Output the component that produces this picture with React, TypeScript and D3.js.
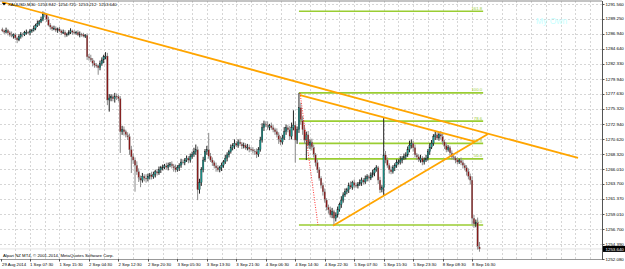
import React from 'react';
import * as d3 from 'd3';

// ---- data ----
const firstOpen = 1287.6;
const closes = [
  1287.4,1287.2,1287.5,1287.1,1286.8,1286.6,1286.8,1286.3,1286.0,1286.5,1286.9,1286.8,1287.1,1287.2,1287.1,1287.4,1287.5,1287.8,1288.2,1288.5,
  1288.8,1289.2,1290.0,1289.9,1289.1,1288.3,1288.0,1287.7,1287.8,1287.5,1287.7,1287.4,1287.1,1287.2,1286.8,1286.9,1287.2,1287.4,1287.2,1287.1,
  1287.2,1286.8,1286.9,1286.8,1286.6,1286.7,1283.4,1283.2,1282.9,1282.4,1282.1,1282.0,1281.7,1282.3,1282.9,1283.4,1283.5,1276.7,1277.0,1277.2,
  1276.9,1277.3,1277.2,1276.9,1271.8,1272.1,1271.8,1271.3,1271.0,1269.0,1267.9,1267.4,1266.6,1265.6,1264.6,1264.3,1264.9,1264.6,1264.5,1264.9,
  1265.1,1264.8,1265.2,1265.6,1265.4,1265.9,1266.2,1266.3,1266.5,1266.3,1266.6,1266.8,1266.5,1266.2,1265.9,1266.2,1266.6,1267.1,1267.0,1267.4,
  1267.7,1267.4,1267.9,1268.3,1268.7,1269.0,1262.8,1263.9,1265.9,1267.4,1268.7,1269.0,1268.0,1267.4,1267.0,1266.5,1266.2,1265.9,1266.2,1266.6,
  1267.1,1267.7,1268.2,1268.7,1269.3,1269.6,1270.0,1269.7,1270.2,1269.9,1269.6,1269.7,1269.3,1269.4,1269.1,1269.0,1268.8,1268.7,1268.3,1269.0,
  1270.5,1272.4,1273.0,1272.8,1272.5,1272.7,1272.4,1272.1,1271.8,1271.3,1270.5,1270.2,1270.8,1271.8,1272.4,1272.1,1271.1,1272.4,1272.8,1270.5,
  1272.1,1275.5,1273.6,1272.1,1270.5,1271.3,1269.7,1270.2,1269.4,1268.2,1267.0,1265.9,1264.6,1263.5,1262.5,1261.2,1260.1,1259.7,1258.9,1259.4,
  1258.4,1258.9,1259.7,1260.5,1261.2,1262.0,1262.5,1262.8,1263.5,1263.2,1263.9,1263.5,1263.4,1263.7,1263.9,1264.3,1264.0,1264.5,1264.8,1264.6,
  1265.1,1265.4,1265.9,1266.2,1264.3,1262.8,1263.1,1268.2,1267.4,1266.6,1265.9,1265.6,1266.2,1266.6,1267.0,1267.1,1267.4,1267.7,1267.9,1268.2,
  1269.0,1269.7,1270.0,1269.3,1268.2,1267.9,1267.4,1267.7,1267.1,1267.4,1267.7,1268.7,1269.4,1270.0,1271.0,1271.3,1270.8,1271.4,1271.1,1270.2,
  1269.6,1269.0,1269.3,1268.5,1267.9,1267.7,1267.4,1267.1,1267.3,1267.0,1266.6,1266.2,1265.6,1264.9,1264.3,1258.4,1257.5,1257.8,1253.94,1253.64,
];
const wickUp = [
  0.3,0.2,0.4,0.2,0.3,0.5,0.2,0.3,0.2,0.4,0.3,0.2,0.3,0.4,0.2,0.3,0.2,0.4,0.3,0.5,
  0.3,0.4,0.4,0.3,0.2,0.5,0.3,0.2,0.4,0.3,0.2,0.3,0.2,0.4,0.3,0.2,0.3,0.4,0.2,0.3,
  0.2,0.3,0.4,0.2,0.3,0.2,0.3,0.4,0.5,0.3,0.4,0.3,0.2,0.5,0.4,0.3,0.6,0.5,0.6,0.4,
  0.3,0.5,0.4,0.3,0.4,0.6,0.5,0.3,0.4,0.5,0.6,0.5,0.4,0.6,0.5,0.4,0.5,0.3,0.6,0.4,
  0.3,0.5,0.4,0.3,0.4,0.5,0.3,0.4,0.3,0.5,0.4,0.3,0.4,0.3,0.5,0.4,0.3,0.5,0.4,0.3,
  0.4,0.3,0.5,0.4,0.6,0.8,0.5,0.6,0.4,0.5,0.4,0.6,2.6,0.5,0.4,0.3,0.5,0.4,0.3,0.4,
  0.3,0.5,0.4,0.3,0.5,0.4,0.6,0.3,0.4,0.5,0.3,0.4,0.3,0.5,0.4,0.3,0.4,0.3,0.5,0.4,
  0.5,0.7,0.5,0.4,0.6,0.3,0.5,0.4,0.3,0.5,0.4,0.6,0.5,0.7,0.5,0.4,0.6,0.8,2.3,0.6,
  0.5,2.3,0.8,0.6,0.7,0.5,0.6,0.4,0.5,0.4,0.3,0.5,0.4,0.3,0.4,0.5,0.3,0.4,0.5,0.6,
  0.3,0.4,0.5,0.3,0.6,0.4,0.5,0.3,0.4,0.6,0.3,0.5,0.4,0.3,0.5,0.4,0.3,0.5,0.4,0.3,
  0.4,0.5,0.3,0.4,0.3,0.5,0.4,5.7,0.6,0.4,0.3,0.5,0.4,0.3,0.5,0.4,0.6,0.3,0.5,0.4,
  0.5,0.7,0.6,0.4,0.5,0.3,0.4,0.5,0.3,0.4,0.5,0.4,0.6,0.5,0.4,0.6,0.4,0.3,0.5,0.4,
  0.3,0.5,0.4,0.3,0.4,0.5,0.3,0.4,0.3,0.5,0.4,0.3,0.4,0.5,0.4,0.6,0.5,0.4,0.7,0.78,
];
const wickDn = [
  0.2,0.3,0.2,0.4,0.3,0.2,0.4,0.3,0.5,0.2,0.3,0.4,0.2,0.3,0.2,0.4,0.3,0.2,0.3,0.2,
  0.3,0.2,0.3,0.4,0.3,0.2,0.4,0.3,0.2,0.3,0.4,0.2,0.3,0.2,0.4,0.3,0.2,0.3,0.4,0.2,
  0.3,0.2,0.4,0.3,0.2,0.3,0.5,0.4,0.3,0.5,0.4,0.3,1.1,0.4,0.3,0.5,0.4,0.8,1.8,0.5,
  0.4,0.6,0.5,0.4,3.3,0.5,0.6,0.4,0.5,0.8,2.5,0.6,4.1,0.5,0.6,1.1,0.4,0.5,0.6,0.4,
  0.5,0.4,0.3,0.5,0.4,0.3,0.5,0.4,0.3,0.4,0.5,0.3,0.4,0.6,0.4,0.3,0.5,0.4,0.3,0.4,
  0.3,0.5,0.4,0.3,0.4,0.5,1.6,0.6,0.5,0.4,0.3,0.5,0.4,0.3,0.5,0.4,0.6,0.3,0.4,0.5,
  0.4,0.3,0.5,0.4,0.3,0.4,0.5,0.3,0.4,0.3,0.5,0.4,0.3,0.4,0.5,0.3,0.4,0.5,0.6,0.4,
  0.3,0.4,0.5,0.3,0.4,0.5,0.3,0.4,0.5,0.4,0.6,0.5,0.4,0.3,0.5,0.4,0.6,0.5,0.4,3.5,
  0.6,0.5,0.7,0.8,0.6,3.1,0.5,0.6,0.5,0.4,0.6,0.5,0.4,0.5,0.6,0.4,0.5,0.6,0.4,0.5,
  1.05,0.5,0.4,0.3,0.5,0.4,0.3,0.4,0.5,0.3,0.4,0.5,0.3,0.4,0.3,0.5,0.4,0.3,0.4,0.5,
  0.3,0.4,0.5,0.3,0.6,0.5,0.4,1.1,0.5,0.4,0.6,0.4,0.3,0.5,0.4,0.3,0.4,0.5,0.3,0.4,
  0.3,0.4,0.5,0.6,0.4,0.5,0.3,0.4,0.5,0.4,0.3,0.4,0.5,0.3,0.4,0.5,0.3,0.4,0.5,0.4,
  0.5,0.4,0.3,0.5,0.4,0.3,0.5,0.4,0.3,0.4,0.5,0.4,0.6,0.5,0.7,1.0,0.6,0.5,0.4,0.43,
];

const priceTicks = [
  1291.56, 1289.25, 1286.94, 1284.64, 1282.33, 1279.94, 1277.63, 1275.32, 1272.94,
  1270.62, 1268.32, 1266.01, 1263.70, 1261.37, 1259.01, 1256.70, 1254.39, 1252.08,
];
const timeLabels = [
  '29 Aug 2014', '1 Sep 07:30', '1 Sep 15:30', '2 Sep 04:30', '2 Sep 12:30', '2 Sep 20:30',
  '3 Sep 05:30', '3 Sep 13:30', '3 Sep 21:30', '4 Sep 06:30', '4 Sep 14:30', '4 Sep 22:30',
  '5 Sep 07:30', '5 Sep 15:30', '5 Sep 23:30', '8 Sep 08:30', '8 Sep 16:30',
];
const barsPerLabel = 16;
const barsPerGrid = 8;

const fibLevels = [0, 50, 61.8, 78.6, 100, 161.8];
const fibLow = 1257.35;
const fibHigh = 1277.8;
const fibStartBar = 162;
const fibEndBar = 262;

// trend lines: [bar, price] endpoints
const orangeLines = [
  [[0.8, 1291.87], [313.5, 1267.72]],
  [[162.6, 1277.47], [257.6, 1270.24]],
  [[180.5, 1257.24], [264.6, 1271.44]],
];
const redDotted = [[162.6, 1277.78], [172.3, 1257.35]];

const header = 'XAUUSD,M30  1253.942  1254.725  1253.212  1253.640';
const lastPrice = 1253.64;

const W = 625, H = 269;
const AXIS_X = 602;
const BOTTOM = 259;
const FONT = '"Liberation Sans", Arial, sans-serif';

export default function App() {
  const x = d3.scaleLinear().domain([0, 260]).range([0.55, 0.55 + 1.842 * 260]);
  const y = d3.scaleLinear().domain([1252.08, 1291.56]).range([259, 4]);

  const bars = closes.map((c, i) => {
    const o = i === 0 ? firstOpen : closes[i - 1];
    const hi = Math.max(o, c) + wickUp[i];
    const lo = Math.min(o, c) - wickDn[i];
    return { i: i + 1, o, c, hi, lo };
  });

  const vGrid: number[] = [];
  for (let b = barsPerGrid; x(b) < AXIS_X - 2; b += barsPerGrid) vGrid.push(b);

  const line = d3.line<number[]>().x((d) => x(d[0])).y((d) => y(d[1]));

  return (
    <svg width={W} height={H} style={{ position: 'absolute', left: 0, top: 0, background: '#fff' }} fontFamily={FONT}>
      <rect x={0} y={0} width={W} height={H} fill="#fff" />
      {/* grid */}
      {priceTicks.map((p, k) => (
        <line key={'h' + k} x1={0} x2={AXIS_X} y1={Math.round(y(p)) + 0.5} y2={Math.round(y(p)) + 0.5}
          stroke="#d6d6d6" strokeDasharray="2,2" strokeWidth={1} />
      ))}
      {vGrid.map((b) => (
        <line key={'v' + b} x1={Math.round(x(b)) + 0.5} x2={Math.round(x(b)) + 0.5} y1={1} y2={BOTTOM}
          stroke="#d6d6d6" strokeDasharray="2,2" strokeWidth={1} />
      ))}
      {/* last price line */}
      <line x1={0} x2={AXIS_X} y1={y(lastPrice)} y2={y(lastPrice)} stroke="#e2e2e2" strokeWidth={1} />

      {/* fibonacci */}
      {fibLevels.map((lv) => {
        const p = fibLow + (fibHigh - fibLow) * lv / 100;
        return (
          <g key={'f' + lv}>
            <line x1={x(fibStartBar)} x2={x(fibEndBar)} y1={y(p)} y2={y(p)} stroke="#9ACD32" strokeWidth={1.6} />
            <text x={x(fibEndBar) - 1} y={y(p) - 1.5} fontSize={4.3} fill="#9ACD32" textAnchor="end">{lv.toFixed(1)}</text>
          </g>
        );
      })}

      {/* candles */}
      {bars.map((b) => {
        const cx = x(b.i);
        const up = b.c >= b.o;
        const top = y(Math.max(b.o, b.c));
        const bot = y(Math.min(b.o, b.c));
        return (
          <g key={'c' + b.i}>
            <line x1={cx} x2={cx} y1={y(b.hi)} y2={y(b.lo)} stroke={up ? '#222' : '#8c8c8c'} strokeWidth={1} />
            <rect x={cx - 0.75} y={top} width={1.5} height={Math.max(0.9, bot - top)}
              fill={up ? '#18948c' : '#861616'} stroke={up ? '#222' : '#8c8c8c'} strokeWidth={0.3} />
          </g>
        );
      })}

      {/* trend lines */}
      {orangeLines.map((l, k) => (
        <path key={'o' + k} d={line(l) || ''} stroke="#FFA500" strokeWidth={1.8} fill="none" />
      ))}
      <path d={line(redDotted) || ''} stroke="#ff2020" strokeWidth={0.9} strokeDasharray="1,1.5" fill="none" />

      {/* frame */}
      <line x1={0} x2={AXIS_X} y1={1} y2={1} stroke="#888" strokeWidth={1} />
      <line x1={0} x2={AXIS_X} y1={BOTTOM + 0.5} y2={BOTTOM + 0.5} stroke="#999" strokeWidth={1} />
      <line x1={AXIS_X + 0.5} x2={AXIS_X + 0.5} y1={1} y2={BOTTOM + 1} stroke="#555" strokeWidth={1} />

      {/* price axis */}
      {priceTicks.map((p, k) => (
        <g key={'pl' + k}>
          <line x1={AXIS_X} x2={AXIS_X + 2.5} y1={Math.round(y(p)) + 0.5} y2={Math.round(y(p)) + 0.5} stroke="#555" />
          <text x={AXIS_X + 3.5} y={y(p) + 1.5} fontSize={4.4} fill="#000">{p.toFixed(3)}</text>
        </g>
      ))}
      <rect x={AXIS_X + 1} y={y(lastPrice) - 3} width={W - AXIS_X - 1} height={6} fill="#000" />
      <text x={AXIS_X + 3.5} y={y(lastPrice) + 1.6} fontSize={4.4} fill="#fff">{lastPrice.toFixed(3)}</text>

      {/* time axis */}
      {timeLabels.map((t, k) => {
        const tx = x(k * barsPerLabel);
        return (
          <g key={'t' + k}>
            <line x1={Math.round(tx) + 0.5} x2={Math.round(tx) + 0.5} y1={BOTTOM} y2={BOTTOM + 2.5} stroke="#555" />
            <text x={Math.max(2, tx)} y={265.8} fontSize={4.3} fill="#000">{t}</text>
          </g>
        );
      })}

      {/* header & notes */}
      <path d="M2,3 L6,3 L4,5.6 Z" fill="#000" />
      <text x={8} y={5.8} fontSize={4.3} fill="#000" style={{ whiteSpace: 'pre' }}>{header}</text>
      <text x={536} y={24} fontSize={8.5} fill="#c8ffff">My Own</text>
      <text x={3} y={256.5} fontSize={4.3} fill="#000">Alpari NZ MT4, © 2001-2014, MetaQuotes Software Corp.</text>
    </svg>
  );
}
